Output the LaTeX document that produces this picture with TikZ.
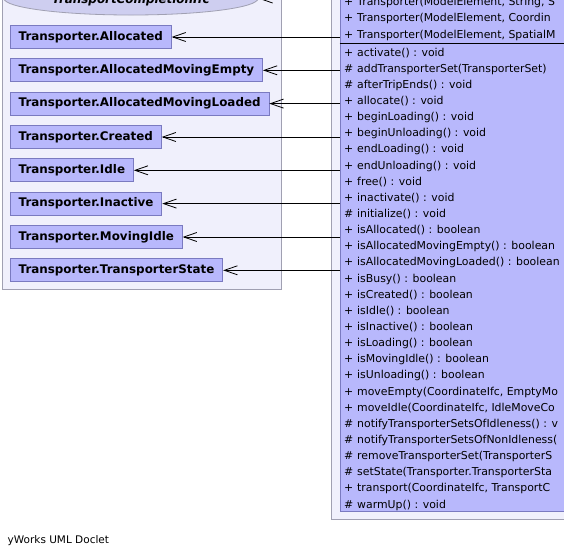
\documentclass[tikz,border=0pt]{standalone}
\usepackage{fontspec}
\setmainfont{DejaVu Sans}
\usetikzlibrary{arrows.meta,shapes.geometric}

\definecolor{panelfill}{RGB}{240,240,252}
\definecolor{panelline}{RGB}{160,160,178}
\definecolor{classfill}{RGB}{184,184,252}
\definecolor{classline}{RGB}{122,122,192}
\definecolor{ifcfill}{RGB}{206,206,240}

% one compartment row of the class box: name, baseline, visibility, text
\newcommand\umlrow[4]{%
  \node[member] (#1s) at (344,#2) {#3};
  \node[member] (#1t) at (357,#2) {#4};}

\begin{document}
\begin{tikzpicture}[x=1pt,y=-1pt,
  panel/.style={draw=panelline, fill=panelfill, line width=0.8pt},
  stateclass/.style={draw=classline, fill=classfill, line width=0.8pt,
    anchor=west, minimum height=23pt, inner xsep=8.3pt, inner ysep=0pt,
    font=\fontsize{11.9}{13}\selectfont\bfseries},
  member/.style={anchor=base west, inner sep=0pt,
    font=\fontsize{10.9}{12}\selectfont},
  assoc/.style={draw=black, line width=0.9pt,
    -{Straight Barb[length=13pt,width=9pt,line width=0.8pt]}},
]
\useasboundingbox (0,0) rectangle (564,558);
\clip (0,0) rectangle (564,558);

% package panels
\draw[panel] (2,-10) rectangle (281.5,289);
\draw[panel] (331.5,-10) rectangle (620,519);

% interface
\node[ellipse, draw=panelline, fill=ifcfill, line width=0.8pt,
  minimum width=254pt, minimum height=33pt, inner sep=0pt] (ifc) at (131,-1.5) {};
\node[anchor=base, inner sep=0pt,
  font=\fontsize{11.9}{13}\selectfont\bfseries\itshape] (ifclabel) at (131,3.5)
  {TransportCompletionIfc};

% Transporter class box
\node[draw=classline, fill=classfill, line width=0.8pt, anchor=north west,
  minimum width=280pt, minimum height=521pt, inner sep=0pt] (cls) at (339.5,-10) {};
\draw[line width=1pt] (cls.west |- 0,43.3) -- (cls.east |- 0,43.3);

\umlrow{c1}{5.8}{+}{Transporter(ModelElement, String, S}
\umlrow{c2}{21.9}{+}{Transporter(ModelElement, Coordin}
\umlrow{c3}{38.0}{+}{Transporter(ModelElement, SpatialM}
\umlrow{m0}{56.1}{+}{activate() : void}
\umlrow{m1}{72.24}{\#}{addTransporterSet(TransporterSet)}
\umlrow{m2}{88.38}{\#}{afterTripEnds() : void}
\umlrow{m3}{104.52}{+}{allocate() : void}
\umlrow{m4}{120.66}{+}{beginLoading() : void}
\umlrow{m5}{136.8}{+}{beginUnloading() : void}
\umlrow{m6}{152.94}{+}{endLoading() : void}
\umlrow{m7}{169.08}{+}{endUnloading() : void}
\umlrow{m8}{185.22}{+}{free() : void}
\umlrow{m9}{201.36}{+}{inactivate() : void}
\umlrow{m10}{217.5}{\#}{initialize() : void}
\umlrow{m11}{233.64}{+}{isAllocated() : boolean}
\umlrow{m12}{249.78}{+}{isAllocatedMovingEmpty() : boolean}
\umlrow{m13}{265.92}{+}{isAllocatedMovingLoaded() : boolean}
\umlrow{m14}{282.06}{+}{isBusy() : boolean}
\umlrow{m15}{298.2}{+}{isCreated() : boolean}
\umlrow{m16}{314.34}{+}{isIdle() : boolean}
\umlrow{m17}{330.48}{+}{isInactive() : boolean}
\umlrow{m18}{346.62}{+}{isLoading() : boolean}
\umlrow{m19}{362.76}{+}{isMovingIdle() : boolean}
\umlrow{m20}{378.9}{+}{isUnloading() : boolean}
\umlrow{m21}{395.04}{+}{moveEmpty(CoordinateIfc, EmptyMo}
\umlrow{m22}{411.18}{+}{moveIdle(CoordinateIfc, IdleMoveCo}
\umlrow{m23}{427.32}{\#}{notifyTransporterSetsOfIdleness() : v}
\umlrow{m24}{443.46}{\#}{notifyTransporterSetsOfNonIdleness(}
\umlrow{m25}{459.6}{\#}{removeTransporterSet(TransporterS}
\umlrow{m26}{475.74}{\#}{setState(Transporter.TransporterSta}
\umlrow{m27}{491.88}{+}{transport(CoordinateIfc, TransportC}
\umlrow{m28}{508.02}{\#}{warmUp() : void}

% state classes
\node[stateclass] (sAllocated)   at (10,37)    {Transporter.Allocated};
\node[stateclass] (sMovingEmpty) at (10,70.3)  {Transporter.AllocatedMovingEmpty};
\node[stateclass] (sMovingLoaded)at (10,103.6) {Transporter.AllocatedMovingLoaded};
\node[stateclass] (sCreated)     at (10,137)   {Transporter.Created};
\node[stateclass] (sIdle)        at (10,170.3) {Transporter.Idle};
\node[stateclass] (sInactive)    at (10,203.6) {Transporter.Inactive};
\node[stateclass] (sMovingIdle)  at (10,237)   {Transporter.MovingIdle};
\node[stateclass] (sState)       at (10,270.3) {Transporter.TransporterState};

% associations
\draw[assoc] (cls.west |- ifc.east) -- (ifc.east);
\foreach \n in {sAllocated,sMovingEmpty,sMovingLoaded,sCreated,sIdle,sInactive,sMovingIdle,sState}
  \draw[assoc] (cls.west |- \n.east) -- (\n.east);

% footer
\node[anchor=west, inner sep=0pt, font=\fontsize{10.5}{12}\selectfont] (footer)
  at (7.5,541) {yWorks UML Doclet};
\end{tikzpicture}
\end{document}
